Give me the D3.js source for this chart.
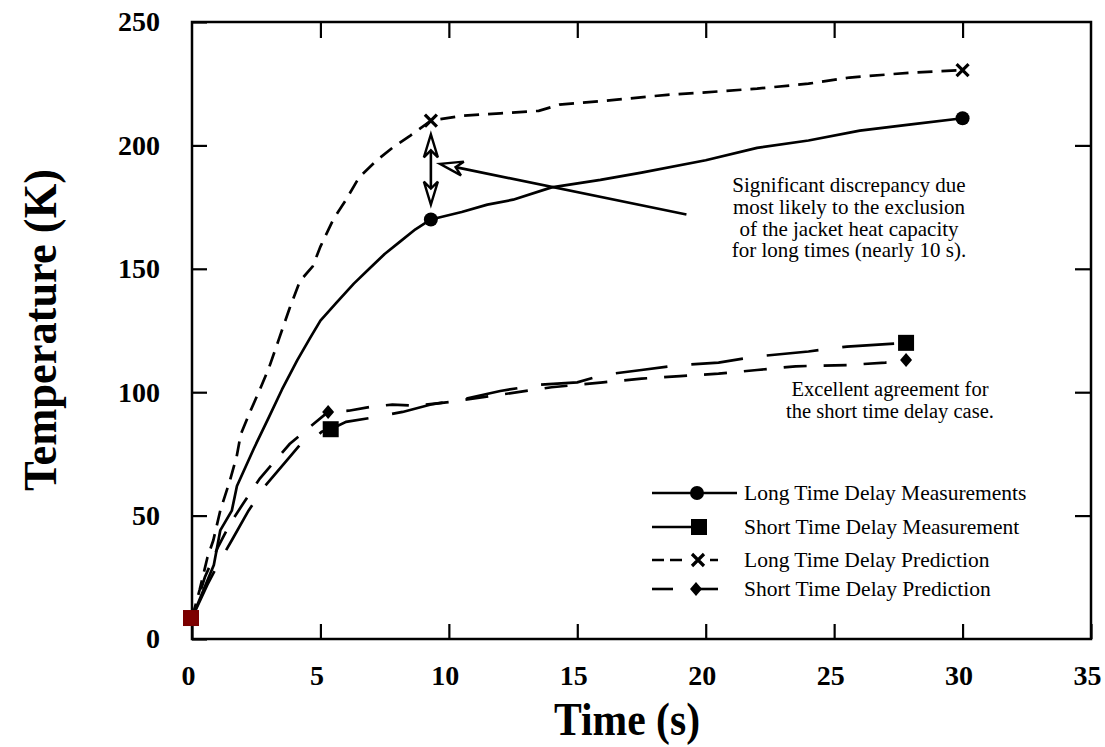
<!DOCTYPE html>
<html>
<head>
<meta charset="utf-8">
<script src="https://cdn.jsdelivr.net/npm/d3@7"></script>
<style>
  body { margin: 0; background: #fff; }
  text { font-family: "Liberation Serif", "Times New Roman", serif; }
</style>
</head>
<body>
<svg id="chart" width="1105" height="747"></svg>
<script>
// long time delay measurement (solid, circles)
var longMeasTime = [0, 0.45, 0.85, 1.1, 1.55, 1.75, 2.4, 3.0, 3.5, 4.1, 4.6, 5.0, 5.6, 6.3, 6.9, 7.5, 8.1, 8.7, 9.3, 10.5, 11.5, 12.5, 14.0, 15.9, 17.5, 20.0, 22.0, 24.0, 26.0, 28.0, 30.0];
var longMeasTemp = [8.5, 20, 30, 44, 52, 62, 77, 90, 101, 113, 122, 129, 136, 144, 150, 156, 161, 166, 170, 173, 176, 178, 183, 186, 189, 194, 199, 202, 206, 208.5, 211];
// long time delay prediction (short dashes, crosses)
var longPredTime = [0, 0.3, 0.6, 0.83, 1.1, 1.47, 1.74, 1.9, 2.3, 2.64, 3.0, 3.4, 3.8, 4.2, 4.7, 5.0, 5.5, 6.0, 6.5, 7.2, 7.8, 8.5, 9.3, 10.5, 12.0, 13.5, 14.3, 16.0, 18.5, 20.0, 22.0, 24.0, 25.6, 28.0, 30.0];
var longPredTemp = [8.5, 20, 33, 40, 52, 64, 74, 83, 93, 101, 110, 122, 134, 145, 151, 159, 170, 178, 187, 194, 199, 204, 210, 212, 213, 214, 216.5, 218, 220.5, 221.5, 223, 225, 227.5, 229.5, 230.5];
// short time delay measurement (squares)
var shortMeasTime = [0, 0.6, 1.0, 1.55, 2.2, 2.84, 3.7, 4.2, 4.7, 5.05, 5.4, 6.0, 6.9, 8.2, 9.3, 10.5, 12.0, 13.5, 15.0, 16.0, 17.5, 19.0, 20.5, 22.0, 24.0, 25.5, 27.8];
var shortMeasTemp = [8.5, 22, 30, 40, 52, 62, 72.5, 78.6, 80.6, 84, 85, 88, 89.5, 92, 95, 97, 100.5, 103, 104, 107, 109, 111, 112, 114.5, 116.5, 118.5, 120];
// short time delay prediction (diamonds)
var shortPredTime = [0, 0.5, 1.0, 1.5, 2.0, 2.64, 3.3, 3.8, 4.6, 5.3, 6.1, 6.9, 7.8, 8.7, 10.0, 12.0, 14.0, 16.0, 17.5, 19.0, 20.5, 22.0, 23.5, 25.5, 27.0, 27.8];
var shortPredTemp = [8.5, 25, 37, 47, 55, 65, 73, 79, 86, 92, 92.5, 94, 95, 94.5, 96, 99, 102, 104, 105.5, 106.5, 107.5, 109, 110.5, 111, 112, 113];
// which points carry a marker
var longMeasMarks = [9.3, 30.0];
var longPredMarks = [9.3, 30.0];
var shortMeasMarks = [5.4, 27.8];
var shortPredMarks = [5.3, 27.8];
var startTime = 0, startTemp = 8.5;

var xTicks = [0, 5, 10, 15, 20, 25, 30, 35];
var yTicks = [0, 50, 100, 150, 200, 250];

var legendNames = ["Long Time Delay Measurements", "Short Time Delay Measurement", "Long Time Delay Prediction", "Short Time Delay Prediction"];
var noteDiscrepancy = ["Significant discrepancy due", "most likely to the exclusion", "of the jacket heat capacity", "for long times (nearly 10 s)."];
var noteAgreement = ["Excellent agreement for", "the short time delay case."];

var svg = d3.select("#chart");
var x = d3.scaleLinear().domain([0, 35]).range([192, 1091]);
var y = d3.scaleLinear().domain([0, 250]).range([639, 22]);

function pts(ts, vs) { return ts.map(function(t, i) { return {t: t, v: vs[i]}; }); }
function at(ts, vs, t) { return vs[ts.indexOf(t)]; }

var line = d3.line().x(function(d) { return x(d.t); }).y(function(d) { return y(d.v); });

// frame and ticks
svg.append("rect").attr("x", x(0)).attr("y", y(250)).attr("width", x(35) - x(0)).attr("height", y(0) - y(250))
  .attr("fill", "none").attr("stroke", "#000").attr("stroke-width", 2.5);

var axBottom = svg.append("g").attr("transform", "translate(0," + y(0) + ")")
  .call(d3.axisBottom(x).tickValues(xTicks).tickSize(-15).tickPadding(26).tickFormat(d3.format("d")));
var axTop = svg.append("g").attr("transform", "translate(0," + y(250) + ")")
  .call(d3.axisTop(x).tickValues(xTicks.slice(1, -1)).tickSize(-16).tickFormat(""));
var axLeft = svg.append("g").attr("transform", "translate(" + x(0) + ",0)")
  .call(d3.axisLeft(y).tickValues(yTicks).tickSize(-15).tickPadding(32).tickFormat(d3.format("d")));
var axRight = svg.append("g").attr("transform", "translate(" + x(35) + ",0)")
  .call(d3.axisRight(y).tickValues(yTicks.slice(1, -1)).tickSize(-16).tickFormat(""));

[axBottom, axTop, axLeft, axRight].forEach(function(g) {
  g.select(".domain").remove();
  g.selectAll(".tick line").attr("stroke", "#000").attr("stroke-width", 2.2);
  g.selectAll(".tick text").attr("font-family", "Liberation Serif, Times New Roman, serif")
    .attr("font-size", 28).attr("font-weight", "bold").attr("fill", "#000");
});
axBottom.selectAll(".tick text").attr("dx", -4);

// axis titles
svg.append("text").attr("x", 627).attr("y", 735).attr("text-anchor", "middle")
  .attr("font-size", 46).attr("font-weight", "bold").attr("textLength", 146).attr("lengthAdjust", "spacingAndGlyphs")
  .text("Time (s)");
svg.append("text").attr("transform", "translate(56,330) rotate(-90)").attr("text-anchor", "middle")
  .attr("font-size", 46).attr("font-weight", "bold").attr("textLength", 322).attr("lengthAdjust", "spacingAndGlyphs")
  .text("Temperature (K)");

// curves
svg.append("path").datum(pts(longMeasTime, longMeasTemp)).attr("d", line)
  .attr("fill", "none").attr("stroke", "#000").attr("stroke-width", 2.7).attr("stroke-linejoin", "round");
svg.append("path").datum(pts(longPredTime, longPredTemp)).attr("d", line)
  .attr("fill", "none").attr("stroke", "#000").attr("stroke-width", 2.7).attr("stroke-dasharray", "15,9");
svg.append("path").datum(pts(shortMeasTime, shortMeasTemp)).attr("d", line)
  .attr("fill", "none").attr("stroke", "#000").attr("stroke-width", 2.7).attr("stroke-dasharray", "52,24");
svg.append("path").datum(pts(shortPredTime, shortPredTemp)).attr("d", line)
  .attr("fill", "none").attr("stroke", "#000").attr("stroke-width", 2.7).attr("stroke-dasharray", "23,17").attr("stroke-dashoffset", 10);

// markers
function circle(g, cx, cy, fill) { g.append("circle").attr("cx", cx).attr("cy", cy).attr("r", 7).attr("fill", fill); }
function square(g, cx, cy, fill) { g.append("rect").attr("x", cx - 8).attr("y", cy - 8).attr("width", 16).attr("height", 16).attr("fill", fill); }
function cross(g, cx, cy) {
  g.append("path").attr("d", "M" + (cx - 6) + "," + (cy - 6) + "L" + (cx + 6) + "," + (cy + 6) + "M" + (cx + 6) + "," + (cy - 6) + "L" + (cx - 6) + "," + (cy + 6))
    .attr("stroke", "#000").attr("stroke-width", 3.2);
}
function diamond(g, cx, cy) {
  g.append("path").attr("d", "M" + cx + "," + (cy - 7) + "L" + (cx + 6) + "," + cy + "L" + cx + "," + (cy + 7) + "L" + (cx - 6) + "," + cy + "Z").attr("fill", "#000");
}
longMeasMarks.forEach(function(t) { circle(svg, x(t), y(at(longMeasTime, longMeasTemp, t)), "#000"); });
longPredMarks.forEach(function(t) { cross(svg, x(t), y(at(longPredTime, longPredTemp, t))); });
shortMeasMarks.forEach(function(t) { square(svg, x(t), y(at(shortMeasTime, shortMeasTemp, t)), "#000"); });
shortPredMarks.forEach(function(t) { diamond(svg, x(t), y(at(shortPredTime, shortPredTemp, t))); });
square(svg, x(startTime) - 1, y(startTemp), "#7a0000");
circle(svg, x(startTime) - 1, y(startTemp), "#7e0000");

// double arrow between prediction and measurement near 9.3 s
function dart(g, tx, ty, ang) {
  // open dart-shaped arrowhead, tip at (tx,ty), pointing along ang
  var c = Math.cos(ang), s = Math.sin(ang);
  function p(a, b) { return [tx - a * c - b * s, ty - a * s + b * c]; }
  var pp = [p(0, 0), p(23, 7), p(16, 0), p(23, -7)];
  g.append("path").attr("d", "M" + pp.map(function(q) { return q.join(","); }).join("L") + "Z")
    .attr("fill", "#fff").attr("stroke", "#000").attr("stroke-width", 2.4).attr("stroke-linejoin", "miter");
}
var ax = x(9.3);
var aTop = y(204.5), aBot = y(176);
svg.append("line").attr("x1", ax).attr("x2", ax).attr("y1", aTop + 14).attr("y2", aBot - 14)
  .attr("stroke", "#000").attr("stroke-width", 2.6);
dart(svg, ax, aTop, -Math.PI / 2);
dart(svg, ax, aBot, Math.PI / 2);

// pointer from the note to the double arrow
var p0 = [x(19.25), y(172)], p1 = [x(9.65), y(192.5)];
var ang = Math.atan2(p1[1] - p0[1], p1[0] - p0[0]);
svg.append("line").attr("x1", p0[0]).attr("y1", p0[1])
  .attr("x2", p1[0] - 16 * Math.cos(ang)).attr("y2", p1[1] - 16 * Math.sin(ang))
  .attr("stroke", "#000").attr("stroke-width", 2.6);
dart(svg, p1[0], p1[1], ang);

// notes
svg.append("g").selectAll("text").data(noteDiscrepancy).enter().append("text")
  .attr("x", 849).attr("y", function(d, i) { return 192 + i * 21.8; })
  .attr("text-anchor", "middle").attr("font-size", 21).attr("fill", "#000").text(function(d) { return d; });
svg.append("g").selectAll("text").data(noteAgreement).enter().append("text")
  .attr("x", 890).attr("y", function(d, i) { return 396 + i * 22; })
  .attr("text-anchor", "middle").attr("font-size", 20.5).attr("fill", "#000").text(function(d) { return d; });

// legend
var legY = [493, 527, 560, 589];
var leg = svg.append("g");
leg.selectAll("text").data(legendNames).enter().append("text")
  .attr("x", 744).attr("y", function(d, i) { return legY[i] + 7; })
  .attr("font-size", 21.5).attr("fill", "#000").text(function(d) { return d; });
leg.append("line").attr("x1", 652).attr("x2", 737).attr("y1", legY[0]).attr("y2", legY[0]).attr("stroke", "#000").attr("stroke-width", 2.6);
circle(leg, 697, legY[0], "#000");
leg.append("line").attr("x1", 652).attr("x2", 692).attr("y1", legY[1]).attr("y2", legY[1]).attr("stroke", "#000").attr("stroke-width", 2.6);
square(leg, 699, legY[1], "#000");
leg.append("line").attr("x1", 652).attr("x2", 724).attr("y1", legY[2]).attr("y2", legY[2]).attr("stroke", "#000").attr("stroke-width", 2.6)
  .attr("stroke-dasharray", "12,6");
leg.append("rect").attr("x", 686).attr("y", legY[2] - 9).attr("width", 24).attr("height", 18).attr("fill", "#fff");
cross(leg, 698, legY[2]);
leg.append("line").attr("x1", 652).attr("x2", 673).attr("y1", legY[3]).attr("y2", legY[3]).attr("stroke", "#000").attr("stroke-width", 2.6);
leg.append("line").attr("x1", 697).attr("x2", 718).attr("y1", legY[3]).attr("y2", legY[3]).attr("stroke", "#000").attr("stroke-width", 2.6);
diamond(leg, 696, legY[3]);
</script>
</body>
</html>
